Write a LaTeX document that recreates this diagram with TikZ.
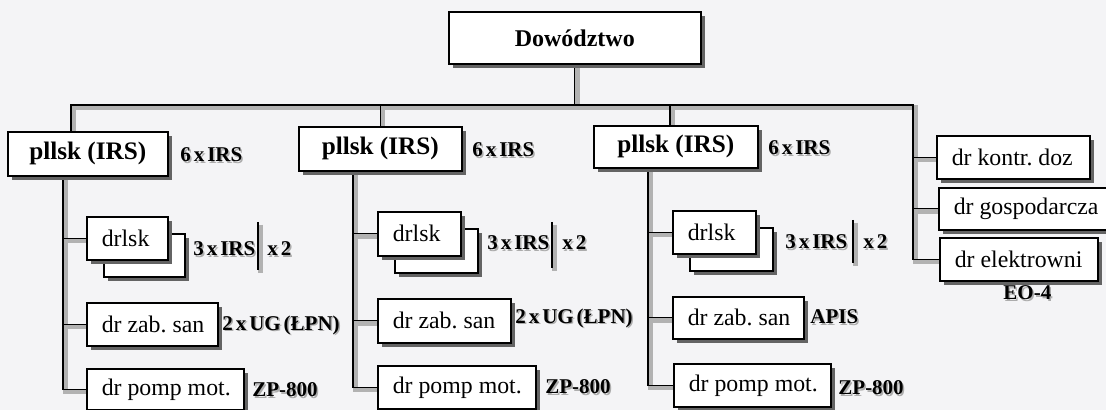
\documentclass[tikz,border=0pt]{standalone}
\usepackage{fontspec}
\setmainfont{Liberation Serif}
\usetikzlibrary{shadows}
\frenchspacing

\definecolor{paper}{RGB}{244,244,246}
\definecolor{stip}{RGB}{100,100,100}

\pgfdeclarelayer{bg}
\pgfdeclarelayer{wires}
\pgfsetlayers{bg,wires,main}

\tikzset{
  frame/.style={draw=black, line width=0.8pt, fill=white, anchor=north west,
    drop shadow={shadow xshift=2.3pt, shadow yshift=-2.3pt, fill=stip, opacity=1}},
  headbox/.style={frame, inner sep=0pt, align=center},
  unitbox/.style={frame, inner ysep=0pt, inner xsep=7.5pt,
    font=\fontsize{11.9}{14}\selectfont},
  link/.style={draw=black, line width=0.65pt,
    preaction={draw=gray!60, line width=2.2pt,
      transform canvas={shift={(1.3pt,-1.3pt)}}}},
  tagtx/.style={anchor=west, inner sep=0pt, text=black,
    font=\fontsize{10.5}{12}\selectfont\bfseries},
  tagsh/.style={tagtx, text=gray!65},
}

% centred bold box from corner (x1,y1) to (x2,y2), font size #7
\newcommand\headnode[7]{%
  \pgfmathsetlengthmacro\bw{(#4-#2)*0.5pt}%
  \pgfmathsetlengthmacro\bh{(#5-#3)*0.5pt}%
  \node[headbox, minimum width=\bw, minimum height=\bh,
        font=\fontsize{#7}{14}\selectfont\bfseries] (#1) at (#2,#3) {#6};}

% left-aligned unit box from corner (x1,y1) to (x2,y2)
\newcommand\unitnode[6]{%
  \pgfmathsetlengthmacro\bw{(#4-#2-30)*0.5pt}%
  \pgfmathsetlengthmacro\bh{(#5-#3)*0.5pt}%
  \node[unitbox, minimum height=\bh] (#1) at (#2,#3) {\makebox[\bw][l]{#6}};}

% bold equipment tag with a grey halo and tight word spacing, west end at (x,y)
\newcommand\eqtag[4]{%
  \node[tagsh] (#1h) at (#2+1.5,#3+1.5) {\spaceskip=0.14em\relax #4};
  \node[tagtx] (#1) at (#2,#3) {\spaceskip=0.14em\relax #4};}

\begin{document}
\begin{tikzpicture}[x=0.5pt, y=-0.5pt]
\begin{pgfonlayer}{bg}
  \fill[paper] (0,0) rectangle (1106,410);
\end{pgfonlayer}
\useasboundingbox (0,0) rectangle (1106,410);
\clip (0,0) rectangle (1106,410);

% command and battalions
\headnode{dow}{448}{11}{700}{63}{Dowództwo}{12}
\headnode{p1}{7}{131}{167}{175}{pllsk (IRS)}{12.6}
\headnode{p2}{298}{126}{461}{170}{pllsk (IRS)}{12.6}
\headnode{p3}{593}{125}{757}{167}{pllsk (IRS)}{12.6}

% left column
\unitnode{d1b}{103}{233}{184}{276}{}
\unitnode{d1}{86}{216}{167}{259}{drlsk}
\unitnode{z1}{86}{302}{217}{345}{dr zab. san}
\unitnode{pm1}{86}{368}{243}{409}{dr pomp mot.}

% middle column
\unitnode{d2b}{394}{228}{477}{272}{}
\unitnode{d2}{377}{211}{460}{255}{drlsk}
\unitnode{z2}{377}{298}{510}{342}{dr zab. san}
\unitnode{pm2}{377}{365}{535}{408}{dr pomp mot.}

% right column
\unitnode{d3b}{689}{227}{772}{270}{}
\unitnode{d3}{672}{210}{755}{253}{drlsk}
\unitnode{z3}{672}{296}{803}{338}{dr zab. san}
\unitnode{pm3}{673}{363}{830}{406}{dr pomp mot.}

% support platoons
\unitnode{k}{936}{135}{1089}{178}{dr kontr. doz}
\unitnode{g}{938}{187}{1112}{229}{dr gospodarcza}
\unitnode{el}{939}{237}{1097}{280}{dr elektrowni}

% junction points
\coordinate (busL) at (71,105);
\coordinate (busR) at (913,105);
\coordinate (s3) at (670,105);
\coordinate (c1) at (63,0);
\coordinate (c2) at (353,0);
\coordinate (c3) at (648,0);
\coordinate (b1t) at (258,222);
\coordinate (b1b) at (258,270);
\coordinate (b2t) at (552,222);
\coordinate (b2b) at (552,268);
\coordinate (b3t) at (853,220);
\coordinate (b3b) at (853,263);

\begin{pgfonlayer}{wires}
  \draw[link] (dow.south) -- (dow.south |- busL);
  \draw[link] (busL |- p1.north) -- (busL) -- (busR) -- (busR |- el.west) -- (el.west);
  \draw[link] (p2.north) -- (p2.north |- busL);
  \draw[link] (s3) -- (s3 |- p3.north);
  \draw[link] (busR |- k.west) -- (k.west);
  \draw[link] (busR |- g.west) -- (g.west);

  \draw[link] (c1 |- p1.south) -- (c1 |- pm1.west) -- (pm1.west);
  \draw[link] (c1 |- d1.west) -- (d1.west);
  \draw[link] (c1 |- z1.west) -- (z1.west);

  \draw[link] (c2 |- p2.south) -- (c2 |- pm2.west) -- (pm2.west);
  \draw[link] (c2 |- d2.west) -- (d2.west);
  \draw[link] (c2 |- z2.west) -- (z2.west);

  \draw[link] (c3 |- p3.south) -- (c3 |- pm3.west) -- (pm3.west);
  \draw[link] (c3 |- d3.west) -- (d3.west);
  \draw[link] (c3 |- z3.west) -- (z3.west);

  \draw[link] (b1t) -- (b1b);
  \draw[link] (b2t) -- (b2b);
  \draw[link] (b3t) -- (b3b);
\end{pgfonlayer}

% equipment tags
\eqtag{t1}{180}{155}{6 x IRS}
\eqtag{t2}{472}{150}{6 x IRS}
\eqtag{t3}{768}{148}{6 x IRS}
\eqtag{r1}{193}{249}{3 x IRS}
\eqtag{r2}{487}{243}{3 x IRS}
\eqtag{r3}{785}{242}{3 x IRS}
\eqtag{m1}{267}{249}{x 2}
\eqtag{m2}{562}{243}{x 2}
\eqtag{m3}{863}{242}{x 2}
\eqtag{u1}{222}{325}{2 x UG (ŁPN)}
\eqtag{u2}{515}{318}{2 x UG (ŁPN)}
\eqtag{a3}{810}{317}{APIS}
\eqtag{z1t}{252}{390}{ZP-800}
\eqtag{z2t}{545}{387}{ZP-800}
\eqtag{z3t}{838}{388}{ZP-800}
\eqtag{eo}{1003}{293}{EO-4}
\end{tikzpicture}
\end{document}
